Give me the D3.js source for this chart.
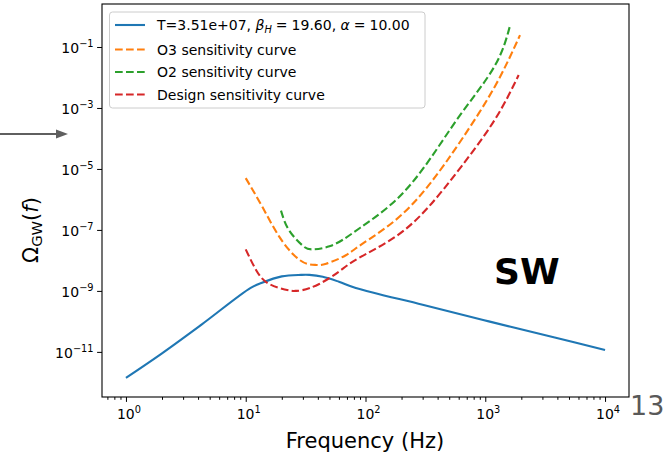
<!DOCTYPE html>
<html>
<head>
<meta charset="utf-8">
<script src="https://cdn.jsdelivr.net/npm/d3@7/dist/d3.min.js"></script>
<style>
  html, body { margin: 0; padding: 0; background: #fff; }
  svg { display: block; }
  text { font-family: "DejaVu Sans", sans-serif; }
</style>
</head>
<body>
<svg id="chart" width="664" height="454"></svg>
<script>
// Sound-wave GW spectrum against detector sensitivity curves
const freqSW = [1, 2, 4.3, 11, 13.5, 20, 29, 34, 44, 60, 83, 300, 1070, 3800, 10000];
const omegaSW = [1.41e-12, 9.0e-12, 8.0e-11, 1.26e-9, 1.82e-9, 3.0e-9, 3.35e-9, 3.35e-9, 2.9e-9, 2.0e-9, 1.25e-9, 3.5e-10, 1.0e-10, 2.95e-11, 1.15e-11];

const freqO3 = [10, 13.8, 19.1, 26.3, 33, 39, 47, 68, 92, 178, 339, 631, 1200, 1950];
const omegaO3 = [5.0e-6, 5.6e-7, 5.9e-8, 1.29e-8, 7.6e-9, 7.1e-9, 7.8e-9, 1.45e-8, 3.3e-8, 2.1e-7, 3.0e-6, 8.9e-5, 5.0e-3, 0.245];

const freqO2 = [19.7, 22.9, 29.5, 35.5, 50, 68, 91, 178, 339, 631, 1200, 1620];
const omegaO2 = [4.3e-7, 1.0e-7, 3.2e-8, 2.3e-8, 2.9e-8, 5.4e-8, 1.2e-7, 9.3e-7, 1.9e-5, 6.6e-4, 2.4e-2, 0.55];

const freqDesign = [10, 12.3, 15.8, 22.9, 26, 29.5, 40.7, 60, 87, 178, 339, 631, 1200, 1900];
const omegaDesign = [2.3e-8, 4.6e-9, 1.66e-9, 1.05e-9, 1.0e-9, 1.05e-9, 1.66e-9, 4.3e-9, 1.17e-8, 6.0e-8, 5.9e-7, 1.2e-5, 4.1e-4, 1.2e-2];

const xTickExponents = [0, 1, 2, 3, 4];
const yTickExponents = [-1, -3, -5, -7, -9, -11];

const seriesNames = [
  "T=3.51e+07",
  "O3 sensitivity curve",
  "O2 sensitivity curve",
  "Design sensitivity curve"
];

const svg = d3.select("#chart");
const plot = { left: 102, right: 629, top: 4, bottom: 397 };

const x = d3.scaleLog()
  .domain([Math.pow(10, -0.2), Math.pow(10, 4.2)])
  .range([plot.left, plot.right]);
const y = d3.scaleLog()
  .domain([Math.pow(10, -12.48), Math.pow(10, 0.41)])
  .range([plot.bottom, plot.top]);

svg.append("defs").append("clipPath").attr("id", "plotClip")
  .append("rect")
  .attr("x", plot.left).attr("y", plot.top)
  .attr("width", plot.right - plot.left).attr("height", plot.bottom - plot.top);

const series = [
  { f: freqSW, v: omegaSW, color: "#1f77b4", dash: null, curve: d3.curveCatmullRom.alpha(0.5) },
  { f: freqO3, v: omegaO3, color: "#ff7f0e", dash: "7.7,3.3", curve: d3.curveNatural },
  { f: freqO2, v: omegaO2, color: "#2ca02c", dash: "7.7,3.3", curve: d3.curveNatural },
  { f: freqDesign, v: omegaDesign, color: "#d62728", dash: "7.7,3.3", curve: d3.curveNatural }
];

const lines = svg.append("g").attr("clip-path", "url(#plotClip)");
series.forEach(s => {
  const line = d3.line()
    .x(d => x(d[0]))
    .y(d => y(d[1]))
    .curve(s.curve);
  lines.append("path")
    .datum(s.f.map((f, i) => [f, s.v[i]]))
    .attr("d", line)
    .attr("fill", "none")
    .attr("stroke", s.color)
    .attr("stroke-width", 2.1)
    .attr("stroke-dasharray", s.dash);
});

// Axes: major ticks with power-of-ten labels, minor ticks on the frequency axis
const xMinor = [];
for (let k = -1; k <= 4; k++) {
  for (let m = 2; m <= 9; m++) {
    const v = m * Math.pow(10, k);
    if (v >= x.domain()[0] && v <= x.domain()[1]) xMinor.push(v);
  }
}

const xAxisMajor = svg.append("g")
  .attr("transform", `translate(0,${plot.bottom})`)
  .call(d3.axisBottom(x).tickValues(xTickExponents.map(e => Math.pow(10, e)))
    .tickSize(4.9).tickFormat(() => ""));
const xAxisMinor = svg.append("g")
  .attr("transform", `translate(0,${plot.bottom})`)
  .call(d3.axisBottom(x).tickValues(xMinor).tickSize(2.8).tickFormat(() => ""));
const yAxisMajor = svg.append("g")
  .attr("transform", `translate(${plot.left},0)`)
  .call(d3.axisLeft(y).tickValues(yTickExponents.map(e => Math.pow(10, e)))
    .tickSize(4.9).tickFormat(() => ""));

[xAxisMajor, xAxisMinor, yAxisMajor].forEach(g => {
  g.select(".domain").remove();
  g.selectAll(".tick line").attr("stroke", "#000").attr("stroke-width", 1);
});

function powerLabel(sel, exp) {
  sel.append("tspan").text("10");
  sel.append("tspan")
    .attr("dy", -6)
    .attr("font-size", 9.8)
    .text(exp < 0 ? "\u2212" + (-exp) : String(exp));
}

xTickExponents.forEach(e => {
  const t = svg.append("text")
    .attr("x", x(Math.pow(10, e)) + 3)
    .attr("y", 418.5)
    .attr("text-anchor", "middle")
    .attr("font-size", 14)
    .attr("fill", "#000");
  powerLabel(t, e);
});

yTickExponents.forEach(e => {
  const t = svg.append("text")
    .attr("x", plot.left - 8.4)
    .attr("y", y(Math.pow(10, e)) + 6.5)
    .attr("text-anchor", "end")
    .attr("font-size", 14)
    .attr("fill", "#000");
  powerLabel(t, e);
});

// Frame
svg.append("rect")
  .attr("x", plot.left).attr("y", plot.top)
  .attr("width", plot.right - plot.left).attr("height", plot.bottom - plot.top)
  .attr("fill", "none").attr("stroke", "#000").attr("stroke-width", 1.1);

// Axis titles
svg.append("text")
  .attr("x", 365).attr("y", 448)
  .attr("text-anchor", "middle")
  .attr("font-size", 21)
  .attr("fill", "#000")
  .text("Frequency (Hz)");

const yTitle = svg.append("text")
  .attr("transform", "translate(38,230) rotate(-90)")
  .attr("text-anchor", "middle")
  .attr("font-size", 21)
  .attr("fill", "#000");
yTitle.append("tspan").text("\u03A9");
yTitle.append("tspan").attr("font-size", 14.7).attr("dy", 4).text("GW");
yTitle.append("tspan").attr("dy", -4).text("(");
yTitle.append("tspan").attr("font-style", "italic").text("f");
yTitle.append("tspan").text(")");

// Legend
const legend = svg.append("g");
legend.append("rect")
  .attr("x", 109.5).attr("y", 12).attr("width", 315.5).attr("height", 96)
  .attr("rx", 3).attr("fill", "#fff").attr("fill-opacity", 0.8)
  .attr("stroke", "#cccccc").attr("stroke-width", 1);

const rowY = [25, 49.5, 72, 94.5];
series.forEach((s, i) => {
  legend.append("line")
    .attr("x1", 115).attr("x2", 145)
    .attr("y1", rowY[i]).attr("y2", rowY[i])
    .attr("stroke", s.color).attr("stroke-width", 2.1)
    .attr("stroke-dasharray", s.dash);
  const t = legend.append("text")
    .attr("x", 157).attr("y", rowY[i] + 5)
    .attr("font-size", 14).attr("fill", "#000");
  if (i === 0) {
    t.append("tspan").text(seriesNames[0] + ", ");
    t.append("tspan").attr("font-style", "italic").text("\u03B2");
    t.append("tspan").attr("font-style", "italic").attr("font-size", 9.8).attr("dy", 3).text("H");
    t.append("tspan").attr("dy", -3).attr("dx", 4).text("=");
    t.append("tspan").attr("dx", 4).text("19.60, ");
    t.append("tspan").attr("font-style", "italic").text("\u03B1");
    t.append("tspan").attr("dx", 4).text("=");
    t.append("tspan").attr("dx", 4).text("10.00");
  } else {
    t.text(seriesNames[i]);
  }
});

// Annotations around the figure
svg.append("text")
  .attr("x", 494).attr("y", 284)
  .attr("font-family", "'Liberation Sans', Arial, sans-serif")
  .attr("font-weight", "bold")
  .attr("font-size", 36)
  .attr("fill", "#000")
  .text("SW");

svg.append("text")
  .attr("x", 630).attr("y", 415)
  .attr("font-family", "'Liberation Sans', Arial, sans-serif")
  .attr("font-size", 27)
  .attr("fill", "#595959")
  .text("13");

svg.append("line")
  .attr("x1", 0).attr("x2", 58).attr("y1", 134).attr("y2", 134)
  .attr("stroke", "#5f5f5f").attr("stroke-width", 2);
svg.append("path")
  .attr("d", "M56,129.5 L68,134 L56,138.5 Z")
  .attr("fill", "#5f5f5f");
</script>
</body>
</html>
